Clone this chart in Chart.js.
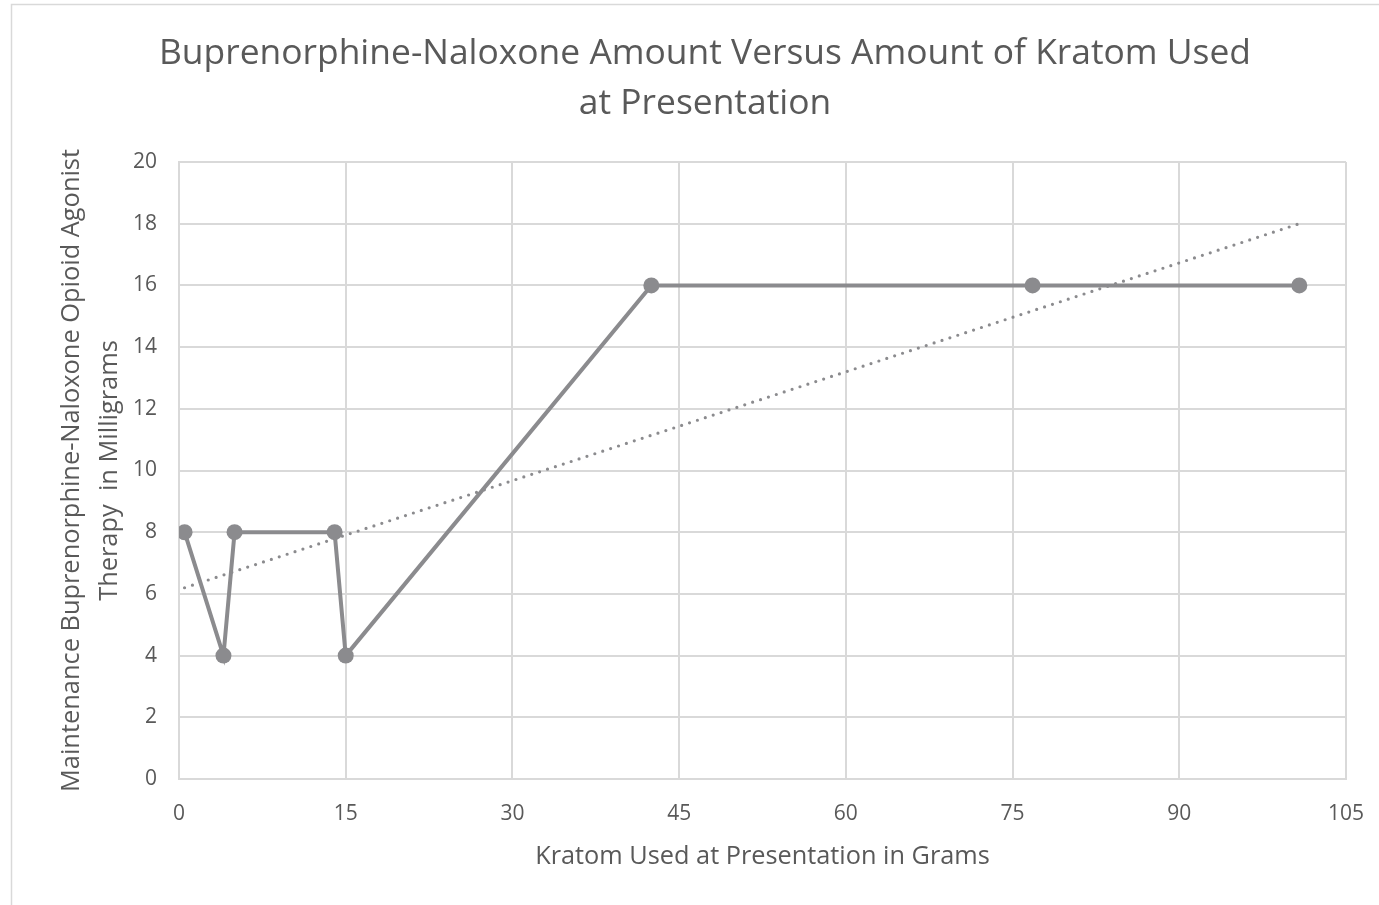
<!DOCTYPE html>
<html>
<head>
<meta charset="utf-8">
<title>Kratom vs Buprenorphine-Naloxone</title>
<script src="https://cdn.jsdelivr.net/npm/chart.js@4/dist/chart.umd.min.js"></script>
<style>
  html, body { margin: 0; padding: 0; background: #fff; }
  #wrap { width: 1379px; height: 905px; }
</style>
</head>
<body>
<div id="wrap"><canvas id="chart-kratom" width="1379" height="905"></canvas></div>
<script>
'use strict';

// kratom used at presentation (g) and maintenance dose (mg), one entry per patient
const kratomGrams = [0.5, 4, 5, 14, 15, 42.5, 76.8, 100.8];
const bupMg = [8, 4, 8, 8, 4, 16, 16, 16];

// linear trend, start and end of the fitted line
const trendX = [0.5, 100.8];
const trendY = [6.2, 18.0];

const xTicks = [0, 15, 30, 45, 60, 75, 90, 105];
const yTicks = [0, 2, 4, 6, 8, 10, 12, 14, 16, 18, 20];

const chartTitle = ['Buprenorphine-Naloxone Amount Versus Amount of Kratom Used', 'at Presentation'];
const xTitle = 'Kratom Used at Presentation in Grams';
const yTitle = ['Maintenance Buprenorphine-Naloxone Opioid Agonist', 'Therapy  in Milligrams'];

const FONT = "'Open Sans', 'Noto Sans', sans-serif";
const TEXT = '#595959';
const GRID = '#d9d9d9';
const LINE = '#8b8b8e';

// white page with the thin frame line round the chart
const frame = {
    id: 'frame',
    beforeDraw(chart) {
        const ctx = chart.ctx;
        ctx.save();
        ctx.fillStyle = '#fff';
        ctx.fillRect(0, 0, chart.width, chart.height);
        ctx.strokeStyle = '#d9d9d9';
        ctx.lineWidth = 1.5;
        ctx.strokeRect(11.5, 4.5, chart.width + 20, chart.height + 20);
        ctx.restore();
    }
};

// the end labels may hang over the plot edge, so the axes ask for no extra room
function noEdgePadding(scale) {
    scale.paddingLeft = 0;
    scale.paddingRight = 0;
    scale.paddingTop = 0;
    scale.paddingBottom = 0;
}

const points = kratomGrams.map((x, i) => ({ x: x, y: bupMg[i] }));
const trend = trendX.map((x, i) => ({ x: x, y: trendY[i] }));

new Chart(document.getElementById('chart-kratom'), {
    type: 'scatter',
    data: {
        datasets: [{
            label: 'Trend',
            data: trend,
            showLine: true,
            borderColor: LINE,
            borderWidth: 3.2,
            borderDash: [0, 8.3],
            borderCapStyle: 'round',
            pointRadius: 0,
            order: 1
        }, {
            label: 'Dose',
            data: points,
            showLine: true,
            borderColor: LINE,
            backgroundColor: LINE,
            borderWidth: 4,
            pointRadius: 8,
            pointBorderWidth: 0,
            pointBackgroundColor: LINE,
            order: 2
        }]
    },
    options: {
        responsive: false,
        animation: false,
        layout: { padding: { left: 64, right: 33, top: 0, bottom: 0 } },
        plugins: {
            legend: { display: false },
            tooltip: { enabled: false },
            title: {
                display: true,
                text: chartTitle,
                color: TEXT,
                font: { family: FONT, size: 35.4, weight: 'normal', lineHeight: 50 / 35.4 },
                padding: { top: 29, bottom: 33 }
            }
        },
        scales: {
            x: {
                type: 'linear',
                min: 0,
                max: 105,
                afterBuildTicks: (scale) => { scale.ticks = xTicks.map(v => ({ value: v })); },
                afterFit: (scale) => { scale.height = 126; noEdgePadding(scale); },
                grid: { color: GRID, lineWidth: 2, drawTicks: false },
                border: { color: GRID, width: 2 },
                ticks: { color: TEXT, padding: 22, font: { family: FONT, size: 21 } },
                title: {
                    display: true,
                    text: xTitle,
                    color: TEXT,
                    font: { family: FONT, size: 25.3, lineHeight: 1.2 },
                    padding: { top: 0, bottom: 33 }
                }
            },
            y: {
                type: 'linear',
                min: 0,
                max: 20,
                afterBuildTicks: (scale) => { scale.ticks = yTicks.map(v => ({ value: v })); },
                afterFit: (scale) => { scale.width = 115; noEdgePadding(scale); },
                grid: { color: GRID, lineWidth: 2, drawTicks: false },
                border: { color: GRID, width: 2 },
                ticks: { color: TEXT, padding: 22, font: { family: FONT, size: 21 } },
                title: {
                    display: true,
                    text: yTitle,
                    color: TEXT,
                    font: { family: FONT, size: 25.4, lineHeight: 38 / 25.4 },
                    padding: { top: -11, bottom: 0 }
                }
            }
        }
    },
    plugins: [frame]
});
</script>
</body>
</html>
